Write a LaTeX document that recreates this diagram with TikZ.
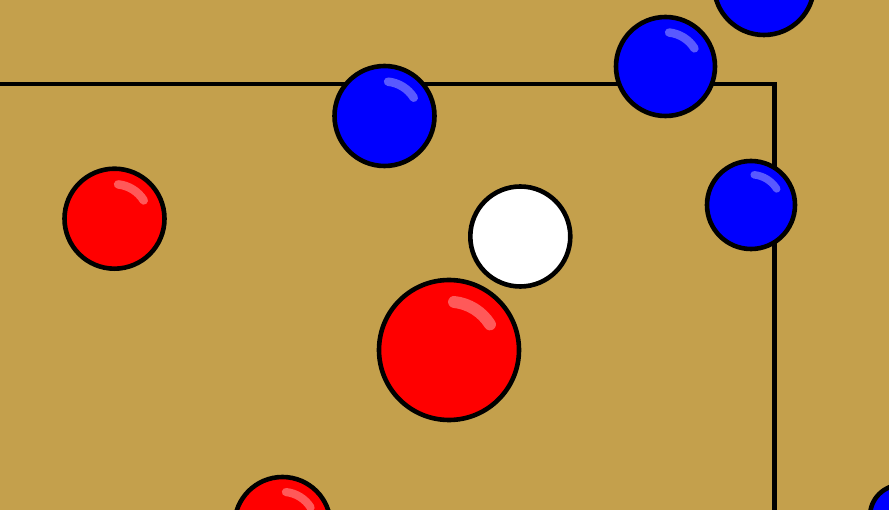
\documentclass[tikz,border=0pt]{standalone}
\definecolor{felt}{RGB}{196,160,76}
\definecolor{ballred}{RGB}{255,0,0}
\definecolor{ballblue}{RGB}{0,0,255}
\tikzset{
  ballrim/.style={draw=black, line width=4.6pt},
  shine/.style={draw=white, draw opacity=0.35, line cap=round},
  rail/.style={draw=black, line width=4.6pt}
}
% #1 x, #2 y (down positive), #3 radius, #4 colour
\newcommand\poolball[4]{%
  \fill[#4] (#1,-#2) circle[radius=#3];
  \path[shine, line width={0.17*#3pt}] ([shift={(84:{0.69*#3})}]#1,-#2) arc[start angle=84, end angle=32, radius={0.69*#3}];
  \path[ballrim] (#1,-#2) circle[radius=#3];
}
\newcommand\plainball[4]{%
  \fill[#4] (#1,-#2) circle[radius=#3];
  \path[ballrim] (#1,-#2) circle[radius=#3];
}
\begin{document}
\begin{tikzpicture}[x=1pt,y=1pt]
\clip (0,-510) rectangle (889,0);
\fill[felt] (0,-510) rectangle (889,0);
\coordinate (railstart) at (-10,-84);
\coordinate (railcorner) at (774.5,-84);
\coordinate (railend) at (774.5,-530);
\path[rail] (railstart) -- (railcorner) -- (railend);
\poolball{764}{-15}{50}{ballblue}
\poolball{665.5}{66.5}{49.5}{ballblue}
\poolball{751}{205}{44}{ballblue}
\poolball{384.5}{116}{50}{ballblue}
\poolball{114.5}{218.7}{50}{ballred}
\plainball{520.3}{236.5}{50}{white}
\poolball{449}{350}{70}{ballred}
\poolball{282.5}{525}{48}{ballred}
\poolball{901}{516}{31}{ballblue}
\end{tikzpicture}
\end{document}
